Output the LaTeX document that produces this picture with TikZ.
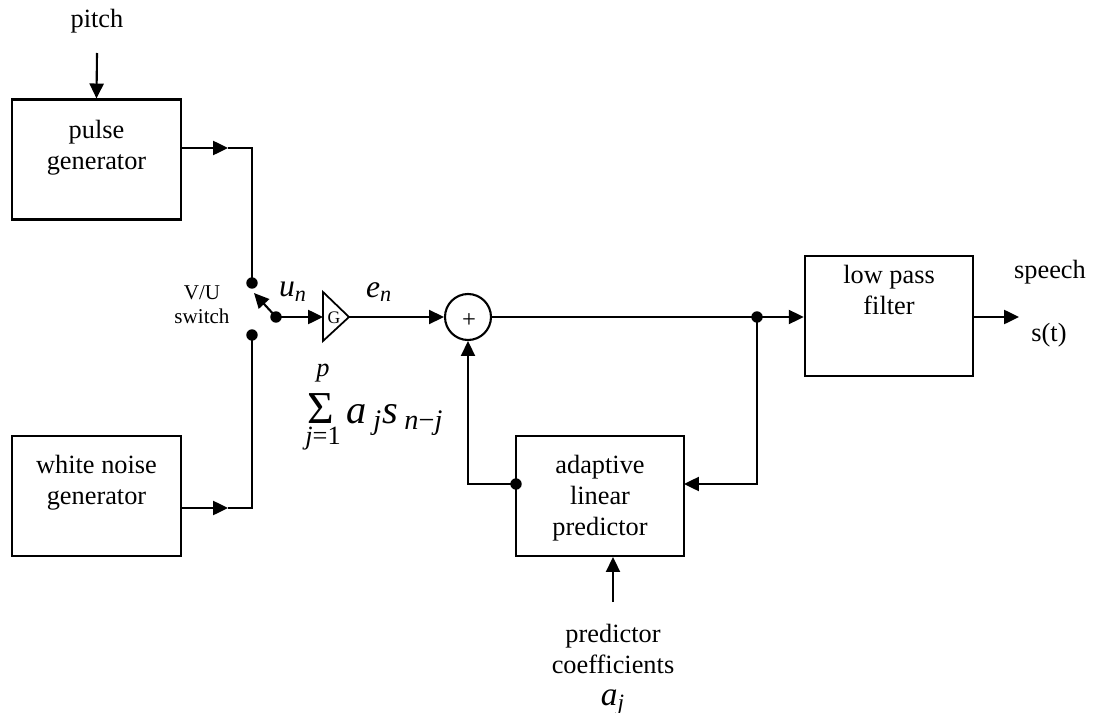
\documentclass[tikz,border=0pt]{standalone}
\usepackage{fontspec}
\setmainfont{Liberation Serif}
\usetikzlibrary{arrows.meta}
\begin{document}
\begin{tikzpicture}[x=0.02cm,y=-0.02cm,
  conn/.style={line width=1.2pt},
  arr/.style={conn,-{Triangle[length=8.5pt,width=8pt]}},
  blk/.style={draw,line width=1.2pt,minimum width=3.37cm,minimum height=2.4cm,inner sep=0pt},
  txt/.style={font=\fontsize{15}{17.5}\selectfont,align=center,inner sep=0pt},
  smalltxt/.style={font=\fontsize{12}{13.6}\selectfont,align=center,inner sep=0pt},
  mathtxt/.style={font=\fontsize{18}{20}\selectfont,inner sep=0pt},
  bigmath/.style={font=\fontsize{23}{26}\selectfont,inner sep=0pt},
  dotn/.style={circle,fill,inner sep=0pt,minimum size=6.5pt}]
\useasboundingbox (0,0) rectangle (1099,713);

% blocks
\node[blk] (pulse) at (96.5,159.5) {};
\node[txt,anchor=north] (pulset) at (96.5,120) {pulse\\generator};
\node[blk] (noise) at (96.5,496) {};
\node[txt,anchor=north] (noiset) at (96.5,455) {white noise\\generator};
\node[blk] (alp) at (600,496) {};
\node[txt,anchor=north] (alpt) at (600,455) {adaptive\\linear\\predictor};
\node[blk] (lpf) at (889,316) {};
\node[txt,anchor=north] (lpft) at (889,265) {low pass\\filter};

% texts
\node[txt] (pitch) at (97,21) {pitch};
\node[smalltxt] (vu) at (202,305) {V/U\\switch};
\node[txt] (speech) at (1050,272) {speech};
\node[txt] (st) at (1049,335) {s(t)};
\node[txt,anchor=north] (coef) at (613,624) {predictor\\coefficients};
\node[inner sep=0pt,font=\fontsize{19}{21}\selectfont,anchor=base] (aj) at (613,705) {\textit{a}\textsubscript{\textit{j}}};
\node[mathtxt] (un) at (293,292) {\textit{u}\textsubscript{\textit{n}}};
\node[mathtxt] (en) at (379,292) {\textit{e}\textsubscript{\textit{n}}};

% sum formula
\node[inner sep=0pt,font=\fontsize{26}{28}\selectfont,anchor=base] (sig) at (321,423) {Σ};
\node[inner sep=0pt,font=\fontsize{15}{17}\selectfont\itshape] (sp) at (323,373) {p};
\node[inner sep=0pt,font=\fontsize{15}{17}\selectfont,anchor=base] (sj) at (323,444) {\textit{j}=1};
\node[bigmath,anchor=base west] (asn) at (346,423) {\textit{a}\,\textsubscript{\textit{j}}\textit{s}\,\textsubscript{\textit{n}−\textit{j}}};

% gain triangle
\coordinate (gin) at (323,317);
\coordinate (gtop) at (323,292);
\coordinate (gbot) at (323,341);
\coordinate (gout) at (349,317);
\draw[line width=1pt] (gtop) -- (gout) -- (gbot) -- cycle;
\node[font=\fontsize{10}{12}\selectfont,inner sep=0pt] (g) at (334,318) {G};

% summer
\node[draw,circle,line width=1.2pt,minimum size=0.92cm,inner sep=0pt] (sum) at (468,317) {};
\node[font=\fontsize{14}{16}\selectfont,inner sep=0pt] (plus) at (469,321) {+};

% switch
\node[dotn] (top) at (252,283) {};
\node[dotn] (bot) at (252,335) {};
\node[dotn] (piv) at (276,317) {};
\coordinate (swtip) at (254,293);
\draw[arr] (piv.center) -- (swtip);

% pitch
\coordinate (pitchtail) at (97,53);
\draw[arr] (pitchtail) -- (pulse.north);

% pulse to switch
\coordinate (pe) at (181,148);
\coordinate (pa) at (228,148);
\coordinate (pc) at (252,148);
\draw[arr] (pe) -- (pa);
\draw[conn] (pa) -- (pc) -- (top.center);

% noise to switch
\coordinate (ne) at (181,508);
\coordinate (na) at (228,508);
\coordinate (nc) at (252,508);
\draw[arr] (ne) -- (na);
\draw[conn] (na) -- (nc) -- (bot.center);

% main path
\draw[arr] (piv.center) -- (gin);
\draw[arr] (gout) -- (sum.west);
\node[dotn] (jn) at (757,317) {};
\draw[conn] (sum.east) -- (jn.center);
\draw[arr] (jn.center) -- (lpf.west |- jn);
\coordinate (out) at (1019,317);
\draw[arr] (lpf.east |- out) -- (out);

% feedback
\coordinate (fbr) at (684,484);
\draw[arr] (jn.center) |- (fbr);
\node[dotn] (alpw) at (516,484) {};
\draw[arr] (alpw.center) -| (sum.south);

% coefficient input
\coordinate (ctail) at (613,602);
\draw[arr] (ctail) -- (ctail |- alp.south);
\end{tikzpicture}
\end{document}
